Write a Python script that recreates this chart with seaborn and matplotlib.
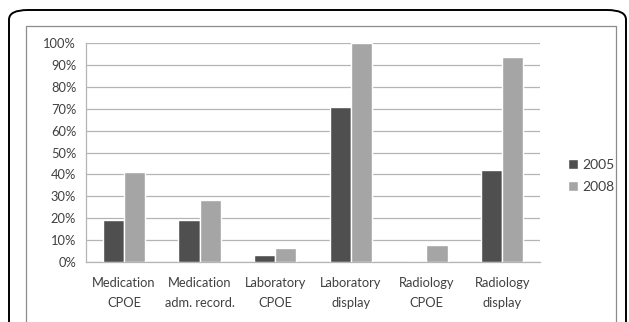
import pandas as pd
import matplotlib.pyplot as plt
import seaborn as sns
from matplotlib.patches import FancyBboxPatch, Rectangle
from matplotlib.ticker import FuncFormatter, MultipleLocator

sns.set_theme(style="white")
plt.rcParams['font.family'] = ['Lato', 'DejaVu Sans']

# Data
categories = ['Medication\nCPOE', 'Medication\nadm. record.', 'Laboratory\nCPOE',
              'Laboratory\ndisplay', 'Radiology\nCPOE', 'Radiology\ndisplay']
years = ['2005', '2008']
values_2005 = [19, 19, 3.2, 71, 0, 42]
values_2008 = [41, 28.3, 6.3, 100, 7.8, 93.7]

df = pd.DataFrame({
    'category': categories * 2,
    'year': [years[0]] * len(categories) + [years[1]] * len(categories),
    'value': values_2005 + values_2008,
})

W, H = 629, 322
fig = plt.figure(figsize=(W / 100, H / 100), dpi=100)
fig.patch.set_facecolor('white')

# outer rounded black frame and inner grey chart border
fig.patches.append(FancyBboxPatch((9 / W, -0.2), (626 - 9) / W, (H - 10) / H + 0.2,
                                  boxstyle='round,pad=0,rounding_size=0.03',
                                  transform=fig.transFigure, facecolor='white',
                                  edgecolor='black', linewidth=1.4, zorder=-2))
fig.patches.append(Rectangle((26 / W, -0.1), (616 - 26) / W, (H - 26) / H + 0.1,
                             transform=fig.transFigure, facecolor='white',
                             edgecolor='#8c8c8c', linewidth=0.9, zorder=-1))

ax = fig.add_axes([86 / W, 60 / H, 454 / W, 219 / H])
ax.set_facecolor('none')

palette = {'2005': '#4f4f4f', '2008': '#a5a5a5'}
sns.barplot(data=df, x='category', y='value', hue='year', palette=palette,
            width=0.56, gap=0, saturation=1, ax=ax, zorder=3)

ax.set_ylim(0, 100)
ax.set_xlim(-0.5, len(categories) - 0.5)
ax.yaxis.set_major_locator(MultipleLocator(10))
ax.yaxis.set_major_formatter(FuncFormatter(lambda v, p: f'{int(v)}%'))
ax.grid(axis='y', color='#b5b5b5', linewidth=0.9, zorder=0)
ax.grid(axis='x', visible=False)
for s in ['top', 'right']:
    ax.spines[s].set_visible(False)
for s in ['left', 'bottom']:
    ax.spines[s].set_color('#b5b5b5')
    ax.spines[s].set_linewidth(0.9)
ax.set_xlabel('')
ax.set_ylabel('')
ax.tick_params(axis='both', length=0, labelsize=9.3, labelcolor='#404040')
ax.tick_params(axis='x', pad=11)
ax.tick_params(axis='y', pad=7)
for lbl in ax.get_xticklabels():
    lbl.set_linespacing(1.75)

handles, labels = ax.get_legend_handles_labels()
ax.legend(handles, labels, loc='center left', bbox_to_anchor=(555 / W, 146 / H),
          bbox_transform=fig.transFigure, frameon=False, fontsize=10,
          handlelength=0.75, handleheight=0.75, handletextpad=0.3,
          labelspacing=0.75, labelcolor='#404040')

plt.savefig('out.png', dpi=100, facecolor='white')
plt.close()
